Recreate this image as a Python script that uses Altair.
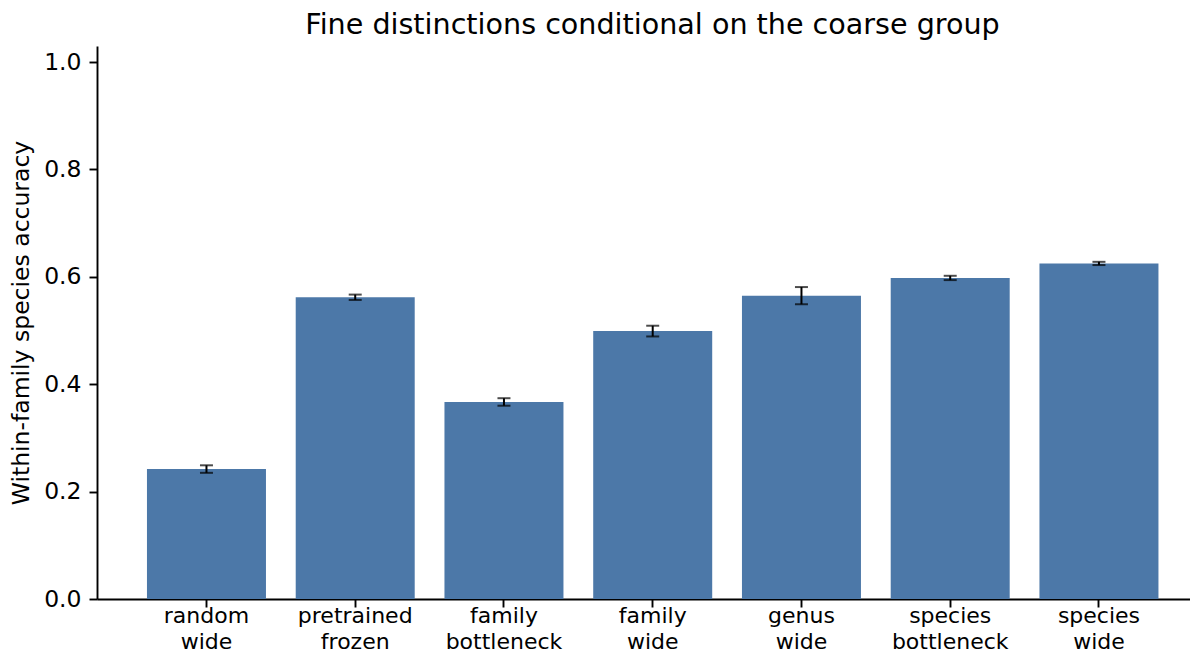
import altair as alt
import pandas as pd

title_text = "Fine distinctions conditional on the coarse group"
models = ["random wide", "pretrained frozen", "family bottleneck", "family wide",
          "genus wide", "species bottleneck", "species wide"]
accuracy = [0.242, 0.562, 0.367, 0.499, 0.565, 0.598, 0.625]
error = [0.007, 0.005, 0.007, 0.010, 0.016, 0.004, 0.003]

df = pd.DataFrame({"model": models, "acc": accuracy, "err": error})
df["lo"] = df["acc"] - df["err"]
df["hi"] = df["acc"] + df["err"]

FONT = "DejaVu Sans"
LW = 1.9

xscale = alt.Scale(paddingInner=0.2, paddingOuter=0.274, align=0.613)
xenc = alt.X("model:N", sort=models, scale=xscale,
             axis=alt.Axis(title=None, labelAngle=0, labelExpr="split(datum.label, ' ')",
                           labelFontSize=22, labelLineHeight=26, labelColor="black",
                           labelBaseline="alphabetic", labelPadding=15, tickSize=8,
                           tickColor="black", tickWidth=LW,
                           domainColor="black", domainWidth=LW))

yscale = alt.Scale(domain=[0, 1.03], nice=False, zero=True)

bars = alt.Chart(df).mark_bar(color="#4C78A8").encode(
    x=xenc,
    y=alt.Y("acc:Q", scale=yscale,
            axis=alt.Axis(title="Within-family species accuracy", values=[0, 0.2, 0.4, 0.6, 0.8, 1.0],
                          format=".1f", grid=False, labelFontSize=23.5, labelColor="black",
                          labelPadding=8, tickSize=8, tickColor="black", tickWidth=LW,
                          domainColor="black", domainWidth=LW, titleFontSize=23.5,
                          titleFontWeight="normal", titleColor="black", titlePadding=10)),
)

rules = alt.Chart(df).mark_rule(color="black", strokeWidth=2).encode(
    x=alt.X("model:N", sort=models, scale=xscale),
    y=alt.Y("lo:Q", scale=yscale),
    y2="hi:Q",
)

caps_lo = alt.Chart(df).mark_tick(color="black", size=13, thickness=2).encode(
    x=alt.X("model:N", sort=models, scale=xscale),
    y=alt.Y("lo:Q", scale=yscale),
)
caps_hi = alt.Chart(df).mark_tick(color="black", size=13, thickness=2).encode(
    x=alt.X("model:N", sort=models, scale=xscale),
    y=alt.Y("hi:Q", scale=yscale),
)

title = alt.Chart(pd.DataFrame({"t": [title_text]})).mark_text(
    font=FONT, fontSize=28.6, color="black", align="center", baseline="alphabetic"
).encode(text="t:N", x=alt.value(555.5), y=alt.value(-11.8))

chart = alt.layer(bars, rules, caps_lo, caps_hi, title).properties(
    width=1093,
    height=553,
    autosize=alt.AutoSizeParams(type="none"),
    padding={"left": 89, "top": 38, "right": 0, "bottom": 55},
).configure(font=FONT).configure_view(stroke=None).configure_axis(
    labelFont=FONT, titleFont=FONT
)

chart.save("out.html", embed_options={"renderer": "svg", "actions": False})
